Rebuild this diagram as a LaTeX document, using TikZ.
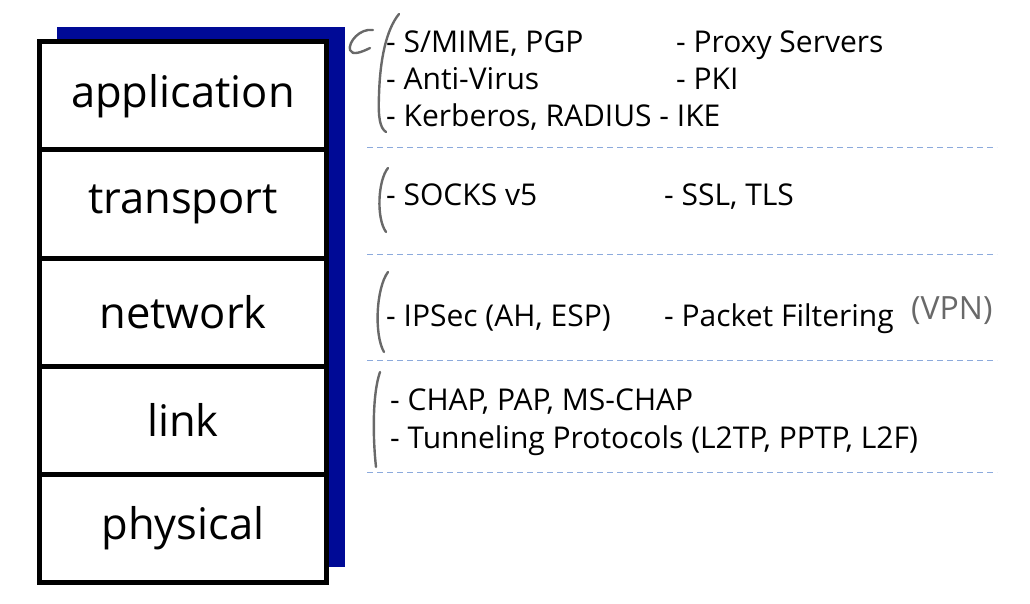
\documentclass[tikz,border=0pt]{standalone}
\usepackage{fontspec}
\setmainfont{Open Sans}
\usetikzlibrary{calc}
\definecolor{shadowblue}{RGB}{0,10,150}
\definecolor{sepblue}{RGB}{140,170,220}
\definecolor{pencil}{RGB}{105,105,105}

\begin{document}
\begin{tikzpicture}[x=1pt,y=-1pt,
  every node/.style={font=\fontsize{30}{32}\selectfont},
  layer/.style={draw,line width=5pt,minimum width=287pt,minimum height=108pt,inner sep=0pt,font=\fontsize{43.5}{45}\selectfont},
  item/.style={anchor=base west,inner sep=0pt},
  sep/.style={sepblue,line width=1pt,dash pattern=on 6pt off 4pt},
  hand/.style={pencil,line width=2.4pt,line cap=round,line join=round}]
\useasboundingbox (0,0) rectangle (1030,604);
\fill[shadowblue] (57,27) rectangle (345,567);
\node[layer,fill=white] (app) at (183,96) {application};
\node[layer,fill=white] (trans) at (183,204) {transport};
\node[layer,fill=white] (net) at (183,312) {network};
\node[layer,fill=white] (link) at (183,420) {link};
\node[layer,fill=white] (phys) at (183,528) {physical};
% application
\node[item] (smime) at (386,53) {- S/MIME, PGP};
\node[item] (anti) at (386,90) {- Anti-Virus};
\node[item] (kerb) at (386,127) {- Kerberos, RADIUS - IKE};
\node[item] (proxy) at (676,53) {- Proxy Servers};
\node[item] (pki) at (676,90) {- PKI};
\draw[sep] (367,148) -- (997,148);
% transport
\node[item] (socks) at (386,206) {- SOCKS v5};
\node[item] (ssl) at (664,206) {- SSL, TLS};
\draw[sep] (367,254) -- (997,254);
% network
\node[item] (ipsec) at (386,326) {- IPSec (AH, ESP)};
\node[item] (filter) at (664,326) {- Packet Filtering};
\node[pencil,anchor=base west,inner sep=0pt,font=\fontsize{32}{32}\selectfont] (vpn) at (911,319) {(VPN)};
\draw[sep] (367,360) -- (997,360);
% link
\node[item] (chap) at (390,410) {- CHAP, PAP, MS-CHAP};
\node[item] (tunnel) at (390,448) {- Tunneling Protocols (L2TP, PPTP, L2F)};
\draw[sep] (367,472) -- (997,472);
% pencil brackets
\draw[hand] (373,30) .. controls (360,28) and (348,42) .. (350,50) .. controls (352,56) and (362,52) .. (370,48);
\draw[hand] (399,14) .. controls (386,30) and (380,60) .. (379,95) .. controls (378,118) and (380,128) .. (386,132);
\draw[hand] (388,168) .. controls (378,180) and (376,218) .. (386,232);
\draw[hand] (388,272) .. controls (376,288) and (374,335) .. (384,352);
\draw[hand] (380,372) .. controls (372,395) and (373,440) .. (376,467);
\end{tikzpicture}
\end{document}
